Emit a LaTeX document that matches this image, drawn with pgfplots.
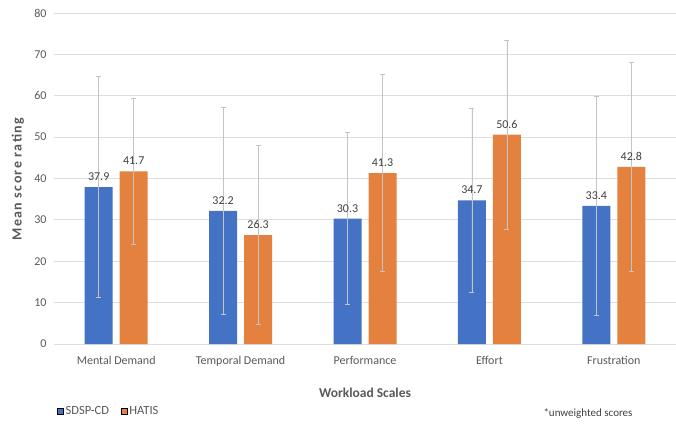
\documentclass[border=0pt]{standalone}
\usepackage{pgfplots}
\pgfplotsset{compat=1.18}
\usepackage{pgfplotstable}
\usepackage{fontspec}
\setmainfont{Carlito}
\definecolor{sblue}{HTML}{4472C4}
\definecolor{horange}{HTML}{E5813E}
\definecolor{gridc}{HTML}{DEDEDE}
\definecolor{txt}{HTML}{595959}
\definecolor{lbl}{HTML}{404040}
\definecolor{errc}{HTML}{C4C4C4}

% x  mean  error
\pgfplotstableread{
x y e
0 37.9 26.7
1 32.2 25.1
2 30.3 20.8
3 34.7 22.3
4 33.4 26.4
}\sdsp
\pgfplotstableread{
x y e
0 41.7 17.6
1 26.3 21.6
2 41.3 23.8
3 50.6 22.9
4 42.8 25.2
}\hatis

\begin{document}
\begin{tikzpicture}
  \path[use as bounding box] (-54pt,-79pt) rectangle (622pt,344pt);
  \begin{axis}[
    scale only axis,
    width=622pt, height=331pt,
    ybar=7pt, bar width=28pt,
    xmin=-0.5, xmax=4.5,
    ymin=0, ymax=80,
    xtick={0,...,4},
    xticklabels={Mental Demand, Temporal Demand, Performance, Effort, Frustration},
    ytick={0,10,...,80},
    axis line style={draw=none},
    tick style={draw=none},
    ymajorgrids,
    grid style={gridc, line width=0.8pt},
    ticklabel style={font=\fontsize{12}{14}\selectfont, text=txt},
    xticklabel style={yshift=-4pt},
    yticklabel style={xshift=-4pt},
    /pgf/number format/assume math mode=true,
    ylabel={\addfontfeature{LetterSpace=10}\textbf{Mean score rating}},
    ylabel style={at={(axis description cs:-0.058,0.5)}, anchor=center,
      font=\fontsize{14}{16}\selectfont, text=txt},
    xlabel={\textbf{Workload Scales}},
    xlabel style={at={(axis description cs:0.5,-0.147)}, anchor=center,
      font=\fontsize{13.5}{15}\selectfont, text=txt},
    nodes near coords={\pgfmathprintnumber[fixed,fixed zerofill,precision=1]{\pgfplotspointmeta}},
    every node near coord/.append style={font=\fontsize{12}{14}\selectfont,
      text=lbl, yshift=3pt},
    legend style={at={(axis description cs:0.0,-0.203)}, anchor=west,
      draw=none, legend columns=2, font=\fontsize{12.5}{14}\selectfont,
      text=txt, /tikz/every even column/.append style={column sep=10pt}},
    legend image code/.code={\draw[#1] (0pt,-3pt) rectangle (6pt,3pt);},
  ]
    \addplot[fill=sblue, draw=none,
      error bars/.cd, y dir=both, y explicit,
      error bar style={errc, line width=0.7pt},
      error mark options={errc, rotate=90, line width=0.7pt, mark size=2.5pt}]
      table[x=x, y=y, y error=e] {\sdsp};
    \addlegendentry{SDSP-CD}
    \addplot[fill=horange, draw=none,
      error bars/.cd, y dir=both, y explicit,
      error bar style={errc, line width=0.7pt},
      error mark options={errc, rotate=90, line width=0.7pt, mark size=2.5pt}]
      table[x=x, y=y, y error=e] {\hatis};
    \addlegendentry{HATIS}
  \end{axis}
  \node[font=\fontsize{11}{12}\selectfont, text=lbl] at (534pt,-70pt) {*unweighted scores};
\end{tikzpicture}
\end{document}
